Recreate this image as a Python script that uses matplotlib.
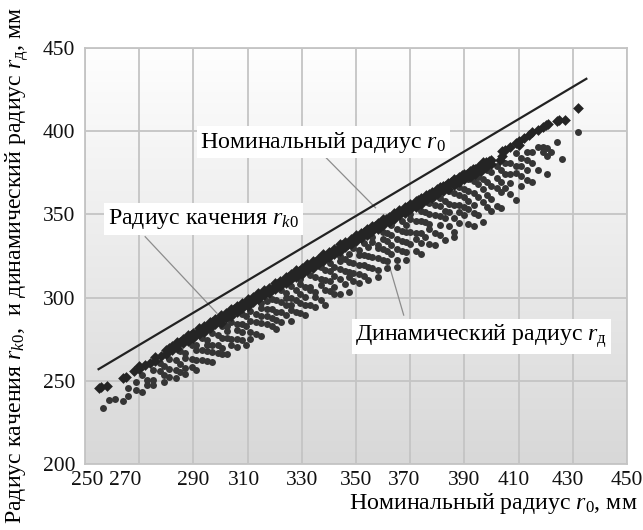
import numpy as np
import matplotlib
matplotlib.use("Agg")
import matplotlib.pyplot as plt
from matplotlib.colors import LinearSegmentedColormap
from matplotlib.transforms import ScaledTranslation

plt.rcParams['font.family'] = ['Liberation Serif', 'DejaVu Serif']
plt.rcParams['mathtext.fontset'] = 'custom'
plt.rcParams['mathtext.rm'] = 'Liberation Serif'
plt.rcParams['mathtext.it'] = 'Liberation Serif:italic'

# Номинальный радиус (линия)
nom_x = [255, 435]
nom_y = [257, 431.5]

# Радиус качения r_k0 (ромбы)
roll_x = [255, 256, 258, 264, 265, 268, 270, 270, 272, 274, 276, 276, 278,
          280, 280, 282, 282, 284, 284, 286, 286, 288, 288, 290, 290,
          292, 292, 294, 294, 296, 296, 298, 298, 300, 300,
          302, 302, 304, 304, 306, 306, 308, 308, 310, 310,
          312, 312, 314, 314, 316, 316, 318, 318, 320, 320,
          322, 322, 324, 324, 326, 326, 328, 328, 330, 330,
          332, 332, 334, 334, 336, 336, 338, 338, 340, 340,
          342, 342, 344, 344, 346, 346, 348, 348, 350, 350,
          352, 352, 354, 354, 356, 356, 358, 358, 360, 360,
          362, 362, 364, 364, 366, 366, 368, 368, 370, 370,
          372, 372, 374, 374, 376, 376, 378, 378, 380, 380,
          382, 382, 384, 384, 386, 386, 388, 388, 390, 390,
          392, 392, 394, 394, 396, 396, 398, 398, 400, 400,
          281, 283, 285, 287, 289, 291, 293, 295, 297, 299,
          301, 303, 305, 307, 309, 311, 313, 315, 317, 319,
          321, 323, 325, 327, 329, 331, 333, 335, 337, 339,
          341, 343, 345, 347, 349, 351, 353, 355, 357, 359,
          361, 363, 365, 367, 369, 371, 373, 375, 377, 379,
          381, 383, 385, 387, 389, 391, 393, 395, 397, 399,
          403, 404, 404, 405, 407, 409, 410, 410, 412, 414, 415, 417,
          419, 420, 421, 424, 425, 427, 432]
roll_y = [245.5, 246.5, 247, 251.5, 252, 256, 257, 259, 259.5, 261, 262, 264.5, 265,
          268.5, 266, 271, 268.5, 273.5, 270, 275, 272.5, 277.5, 274, 279, 276,
          281.5, 278, 283, 279.5, 285.5, 281.5, 287, 284, 289.5, 285,
          291, 287.5, 293, 289, 295, 291.5, 296.5, 293.5, 299, 295,
          300.5, 297.5, 303, 299, 304.5, 301.5, 306, 302.5, 308.5, 305,
          310, 307, 312.5, 308.5, 314, 311, 316.5, 312.5, 318, 314,
          320, 316.5, 322, 318, 323.5, 320.5, 326, 322, 327.5, 324.5,
          329.5, 326, 332, 328, 333.5, 330.5, 335, 332, 337.5, 334,
          339, 336, 341.5, 337.5, 343, 340, 345, 341.5, 347, 343.5,
          348.5, 345.5, 351, 347, 352.5, 349.5, 354.5, 351, 356, 353,
          358, 354.5, 360, 356.5, 361.5, 358.5, 363.5, 360, 365.5, 362,
          367, 364, 369, 365.5, 371, 367.5, 372.5, 369.5, 374, 371,
          376, 372.5, 377.5, 374.5, 379.5, 376, 381.5, 378.5, 383, 380,
          269.6, 270.6, 273.5, 274.4, 277.4, 278.3, 281.2, 282.2, 285.1, 286,
          288.5, 290.4, 292.9, 293.8, 296.2, 297.7, 300.6, 301.5, 304, 305.4,
          308.3, 309.3, 312.2, 313.1, 316.1, 317, 319.9, 321.4, 323.8, 324.7,
          327.7, 328.6, 331.5, 332.5, 335.4, 336.3, 339.3, 340.2, 343.1, 344.1,
          347, 347.9, 350.9, 351.8, 354.7, 355.7, 358.6, 359.5, 362.5, 363.4,
          366.3, 367.3, 369.7, 370.6, 373.6, 374.5, 377.4, 378.4, 381.3, 382.2,
          382.7, 388, 385, 389, 390.5, 393, 394, 391.5, 396, 397.5, 399.5, 400.5,
          402.5, 403.5, 404.5, 406, 406.5, 407, 414]

# Динамический радиус r_д (точки)
dyn_x = [256.5, 259, 261, 264, 266, 266, 269, 269, 271, 271, 273, 273,
         275, 275, 275, 277.5, 277.5, 279, 279, 279, 281, 281, 281,
         283.5, 283.5, 283.5, 285, 285, 285, 287, 287, 287, 287,
         289.5, 289.5, 289.5, 291, 291, 291, 291, 293, 293, 293,
         295, 295, 295, 295, 297, 297, 297, 297, 299, 299, 299,
         300.5, 300.5, 300.5, 300.5, 302.5, 302.5, 302.5, 302.5, 304, 304, 304,
         306, 306, 306, 306, 308, 308, 308, 308, 309.5, 309.5, 309.5,
         311, 311, 311, 311, 313, 313, 313, 315, 315, 315, 315, 315,
         317, 317, 317, 317, 319, 319, 319, 319, 320.5, 320.5, 320.5, 320.5,
         322.5, 322.5, 322.5, 322.5, 324, 324, 324, 324,
         326, 326, 326, 326, 326, 328, 328, 328,
         329.5, 329.5, 329.5, 329.5, 329.5, 331, 331, 331, 331,
         333, 333, 333, 333, 335, 335, 335, 335, 337, 337, 337, 337,
         338.5, 338.5, 338.5, 338.5, 340.5, 340.5, 340.5, 340.5,
         342, 342, 342, 342, 344, 344, 344, 344, 344, 346, 346, 346,
         347.5, 347.5, 347.5, 347.5, 347.5, 349, 349, 349, 349,
         351, 351, 351, 351, 351, 353, 353, 353, 353,
         354.5, 354.5, 354.5, 354.5, 356, 356, 356, 356,
         358, 358, 358, 358, 358, 360, 360, 360, 360,
         361.5, 361.5, 361.5, 361.5, 361.5, 363, 363, 363, 363,
         365, 365, 365, 365, 365, 367, 367, 367, 367,
         368.5, 368.5, 368.5, 368.5, 368.5, 370, 370, 370, 370,
         372, 372, 372, 372, 374, 374, 374, 374, 374, 375.5, 375.5, 375.5,
         377, 377, 377, 377, 377, 379, 379, 379, 379,
         381, 381, 381, 381, 381, 383, 383, 383, 383,
         384.5, 384.5, 384.5, 384.5, 386, 386, 386, 386, 386,
         388, 388, 388, 388, 388, 390, 390, 390, 390,
         391.5, 391.5, 391.5, 391.5, 391.5, 393.5, 393.5, 393.5, 393.5, 393.5,
         395, 395, 395, 395, 397, 397, 397, 397, 398.5, 398.5, 398.5, 398.5,
         400, 400, 400, 400, 402, 402, 402, 402, 403.5, 403.5, 403.5, 403.5,
         405, 405, 405, 407, 407, 407, 407, 409, 409, 409, 409,
         411, 411, 411, 411, 413, 413, 413, 413, 415, 415, 415,
         417, 417, 419, 419, 420.5, 420.5, 420.5, 422, 424, 426, 432]
dyn_y = [233.5, 238.5, 238.8, 238, 245.6, 240.6, 244.5, 249.5, 243.5, 253.5, 250.4, 247.4,
         256.3, 250.3, 247.3, 255.8, 260.8, 253.2, 249.2, 259.2, 263.1, 257.1, 252.1,
         262.6, 256.6, 251.6, 268, 260, 255, 267, 264, 258, 254,
         271.4, 263.4, 258.4, 268.8, 262.8, 256.8, 271.8, 275.7, 268.7, 262.7,
         274.7, 267.7, 261.7, 271.7, 278.6, 271.6, 267.6, 261.6, 277.5, 266.5, 271.5,
         283, 276, 270, 266, 282.9, 275.9, 265.9, 279.9, 285.4, 275.4, 271.4,
         284.3, 280.3, 275.3, 270.3, 290.3, 284.3, 274.3, 279.3, 288.7, 271.7, 282.7,
         292.2, 286.2, 279.2, 275.2, 290.1, 285.1, 278.1, 297, 294, 285, 277, 289,
         293, 284, 289, 298, 298.9, 292.9, 282.9, 287.9, 298.3, 291.3, 281.3, 286.3,
         304.3, 297.3, 291.3, 285.3, 302.7, 295.7, 289.7, 299.7,
         306.7, 299.7, 292.7, 285.7, 295.7, 304.6, 298.6, 291.6,
         311, 308, 302, 297, 291, 306.5, 300.5, 295.5, 289.5,
         313.5, 306.5, 304.5, 295.5, 312.4, 303.4, 300.4, 294.4, 318.3, 311.3, 307.3, 298.3,
         316.8, 310.8, 304.8, 295.8, 320.7, 315.7, 309.7, 303.7,
         318.1, 313.1, 306.1, 302.1, 325.1, 317.1, 311.1, 302.1, 322.1, 323, 316, 308,
         326.5, 321.5, 315.5, 312.5, 303.5, 329.9, 320.9, 314.9, 309.9,
         328.9, 325.9, 319.9, 313.9, 308.9, 332.8, 325.8, 319.8, 312.8,
         330.3, 325.3, 318.3, 310.3, 336.7, 333.7, 324.7, 317.7,
         331.6, 329.6, 323.6, 316.6, 312.6, 339.5, 335.5, 329.5, 322.5,
         339, 334, 328, 322, 318, 343.4, 337.4, 331.4, 326.4,
         341.4, 335.4, 329.4, 322.4, 318.4, 346.3, 340.3, 334.3, 328.3,
         343.7, 339.7, 333.7, 327.7, 322.7, 350.2, 347.2, 339.2, 332.2,
         346.1, 339.1, 335.1, 328.1, 352.1, 346.1, 339.1, 333.1, 326.1, 351.5, 345.5, 336.5,
         357, 350, 344, 341, 332, 355.9, 349.9, 338.9, 331.9,
         359.8, 354.8, 348.8, 343.8, 337.8, 357.8, 351.8, 347.8, 334.8,
         364.2, 356.2, 351.2, 343.2, 362.7, 355.7, 347.7, 339.7, 336.7,
         366.6, 361.6, 355.6, 351.6, 344.6, 365.5, 360.5, 354.5, 349.5,
         371, 364, 358, 353, 344, 369.9, 362.9, 355.9, 350.9, 342.9,
         372.4, 368.4, 360.4, 349.4, 371.3, 365.3, 357.3, 345.3, 376.7, 369.7, 361.7, 354.7,
         375.2, 367.2, 359.2, 352.2, 379.1, 372.1, 366.1, 355.1, 376.6, 369.6, 363.6, 353.6,
         381.1, 374.1, 366.1, 381, 374, 369, 362, 386.9, 378.9, 374.9, 358.9,
         383.9, 378.9, 372.9, 366.9, 387.8, 382.8, 376.8, 370.8, 387.7, 380.7, 369.7,
         390.7, 376.7, 390.6, 387.6, 390, 385, 374, 387.5, 393.4, 383.4, 399.7]

x_ticks = [250, 270, 290, 310, 330, 350, 370, 390, 410, 430, 450]
y_ticks = [200, 250, 300, 350, 400, 450]

fig = plt.figure(figsize=(6.43, 5.30), dpi=100)
ax = fig.add_axes([0.1322, 0.1245, 0.8429, 0.7849])

# фон области построения: светлый вертикальный градиент
bg = LinearSegmentedColormap.from_list('bg', ['#fefefe', '#d8d8d8'])
grad = np.linspace(0, 1, 256).reshape(-1, 1)
ax.imshow(grad, extent=[0, 1, 0, 1], transform=ax.transAxes, cmap=bg,
          aspect='auto', origin='upper', zorder=0)

ax.set_xlim(250, 450)
ax.set_ylim(200, 450)
ax.set_xticks(x_ticks)
ax.set_yticks(y_ticks)
ax.grid(True, color='#c4c4c4', linewidth=1.3, zorder=1)
ax.set_axisbelow(True)
for s in ax.spines.values():
    s.set_color('#c4c4c4')
    s.set_linewidth(1.3)
ax.tick_params(length=0, labelsize=15.5, colors='#111111')
ax.tick_params(axis='x', pad=5)
ax.tick_params(axis='y', pad=7)

# подписи на оси X стоят не точно под линиями сетки
shift = {250: 2, 270: -14, 310: -4, 370: -6, 410: -5, 430: -5}
for val, lab in zip(x_ticks, ax.get_xticklabels()):
    if val in shift:
        lab.set_transform(lab.get_transform() +
                          ScaledTranslation(shift[val] / 100, 0, fig.dpi_scale_trans))

# выноски
ax.plot([338.7, 357.2], [384.5, 354], color='#8c8c8c', lw=0.9, zorder=2)
ax.plot([272.2, 298.7], [336.6, 290.6], color='#8c8c8c', lw=0.9, zorder=2)
ax.plot([367.6, 362.0], [289.5, 320.8], color='#8c8c8c', lw=0.9, zorder=2)

ax.scatter(dyn_x, dyn_y, s=25, marker='o', color='#353535', linewidths=0, zorder=3)
ax.scatter(roll_x, roll_y, s=30, marker='D', color='#242424', linewidths=0, zorder=4)
ax.plot(nom_x, nom_y, color='#222222', lw=1.6, zorder=5)

fs = 17.2
box = dict(facecolor='white', edgecolor='none', pad=2.5)
ax.text(292.5, 393.5, 'Номинальный радиус $r_0$', fontsize=fs,
        ha='left', va='center', bbox=box, zorder=6)
ax.text(258.5, 347.2, 'Радиус качения $r_{k0}$', fontsize=fs,
        ha='left', va='center', bbox=box, zorder=6)
ax.text(349.8, 276.9, 'Динамический радиус $r_\\mathrm{д}$', fontsize=fs,
        ha='left', va='center', bbox=box, zorder=6)

fig.text(0.992, 1 - 503 / 530, 'Номинальный радиус $r_0$, мм', fontsize=fs,
         ha='right', va='center')
fig.text(17 / 643, 0.5,
         'Радиус качения $r_{k0}$,  и динамический радиус $r_\\mathrm{д}$, мм',
         fontsize=fs, rotation=90, ha='center', va='center')

fig.savefig('out.png', dpi=100)
